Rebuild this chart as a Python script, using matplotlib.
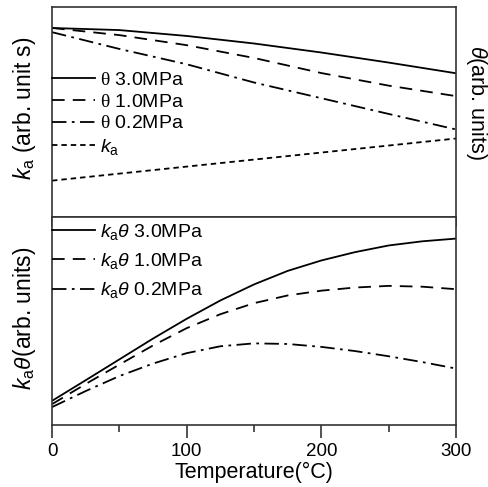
import matplotlib
matplotlib.use("Agg")
import matplotlib.pyplot as plt

plt.rcParams['font.family'] = ['Liberation Sans', 'DejaVu Sans']
plt.rcParams['mathtext.fontset'] = 'custom'
plt.rcParams['mathtext.rm'] = 'Liberation Sans'
plt.rcParams['mathtext.it'] = 'Liberation Sans:italic'
plt.rcParams['mathtext.sf'] = 'Liberation Serif'

# ---- data (arbitrary units 0..1 per panel) ----
T_top = [0, 50, 100, 150, 200, 250, 300]
theta_30 = [0.900, 0.890, 0.862, 0.826, 0.783, 0.735, 0.684]
theta_10 = [0.900, 0.866, 0.818, 0.757, 0.685, 0.625, 0.575]
theta_02 = [0.880, 0.800, 0.727, 0.640, 0.565, 0.490, 0.416]
T_ka = [0, 300]
ka = [0.172, 0.373]

T_bot = [0, 25, 50, 75, 100, 125, 150, 175, 200, 225, 250, 275, 300]
kth_30 = [0.116, 0.215, 0.315, 0.415, 0.510, 0.598, 0.675, 0.740, 0.790, 0.830, 0.862, 0.882, 0.895]
kth_10 = [0.100, 0.197, 0.290, 0.382, 0.465, 0.532, 0.585, 0.622, 0.645, 0.660, 0.668, 0.664, 0.652]
kth_02 = [0.086, 0.163, 0.235, 0.295, 0.345, 0.378, 0.392, 0.389, 0.375, 0.355, 0.330, 0.302, 0.271]

top_labels = [r'$\mathsf{\theta}$ 3.0MPa', r'$\mathsf{\theta}$ 1.0MPa', r'$\mathsf{\theta}$ 0.2MPa', r'$k_\mathrm{a}$']
bot_labels = [r'$k_\mathrm{a}\theta$ 3.0MPa', r'$k_\mathrm{a}\theta$ 1.0MPa', r'$k_\mathrm{a}\theta$ 0.2MPa']
xticks = [0, 100, 200, 300]
xminor = [50, 150, 250]

fig = plt.figure(figsize=(4.88, 4.87), dpi=100)
ax1 = fig.add_axes([0.1066, 0.555, 0.828, 0.4306])
ax2 = fig.add_axes([0.1066, 0.1273, 0.828, 0.4277])

lw = 1.3
col = 'black'
sty_solid = dict(color=col, lw=lw, linestyle='-')
sty_dash = dict(color=col, lw=lw, linestyle=(0, (7, 4.5)))
sty_dd = dict(color=col, lw=lw, linestyle=(0, (8, 3, 1.5, 3)))
sty_short = dict(color=col, lw=lw, linestyle=(0, (3, 2.2)))

ax1.plot(T_top, theta_30, label=top_labels[0], **sty_solid)
ax1.plot(T_top, theta_10, label=top_labels[1], **sty_dash)
ax1.plot(T_top, theta_02, label=top_labels[2], **sty_dd)
ax1.plot(T_ka, ka, label=top_labels[3], **sty_short)

ax2.plot(T_bot, kth_30, label=bot_labels[0], **sty_solid)
ax2.plot(T_bot, kth_10, label=bot_labels[1], **sty_dash)
ax2.plot(T_bot, kth_02, label=bot_labels[2], **sty_dd)

for ax in (ax1, ax2):
    ax.set_xlim(0, 300)
    ax.set_ylim(0, 1)
    ax.set_yticks([])
    ax.set_xticks(xticks)
    ax.set_xticks(xminor, minor=True)
    for s in ax.spines.values():
        s.set_linewidth(1.2)
        s.set_color('#333333')

ax1.tick_params(axis='x', which='major', direction='out', length=7, width=1.2,
                color='#333333', labelbottom=False)
ax1.tick_params(axis='x', which='minor', direction='out', length=4, width=1.2,
                color='#333333')
ax2.tick_params(axis='x', which='major', direction='out', length=9, width=1.2,
                color='#333333', labelsize=13.5, pad=4)
ax2.tick_params(axis='x', which='minor', direction='out', length=5, width=1.2,
                color='#333333')

ax2.set_xlabel('Temperature(°C)', fontsize=15.5, labelpad=1)

fig.text(25 / 488, 1 - 108 / 487, r'$k_\mathrm{a}$ (arb. unit s)', fontsize=16.5,
         rotation=90, ha='center', va='center')
fig.text(25 / 488, 1 - 318 / 487, r'$k_\mathrm{a}\theta$(arb. units)', fontsize=16.5,
         rotation=90, ha='center', va='center')
fig.text(476 / 488, 1 - 103 / 487, r'$\theta$(arb. units)', fontsize=15.5,
         rotation=270, ha='center', va='center')

ax1.legend(loc='center left', bbox_to_anchor=(0.0, 0.49), frameon=False,
           fontsize=14, handlelength=2.2, handletextpad=0.25, borderpad=0,
           borderaxespad=0, labelspacing=0.21)
ax2.legend(loc='upper left', bbox_to_anchor=(0.0, 0.976), frameon=False,
           fontsize=14, handlelength=2.2, handletextpad=0.25, borderpad=0,
           borderaxespad=0, labelspacing=0.48)

fig.savefig('out.png', dpi=100)
